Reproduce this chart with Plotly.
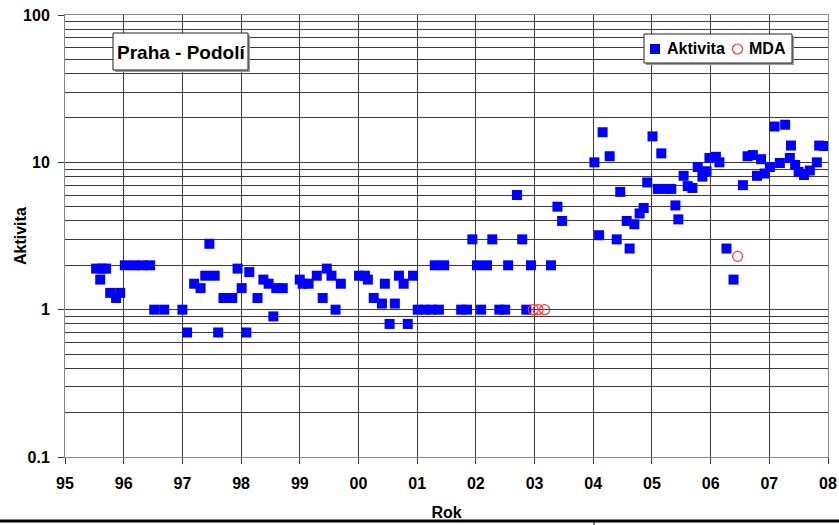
import plotly.graph_objects as go

# Measured activity (decimal year, value)
akt_rok = [
    1995.53, 1995.60, 1995.63, 1995.70, 1995.77, 1995.87, 1995.94,
    1996.02, 1996.18, 1996.32, 1996.45, 1996.52, 1996.69,
    1997.00, 1997.08, 1997.20, 1997.31, 1997.39, 1997.46, 1997.55, 1997.61,
    1997.70, 1997.85, 1997.94, 1998.01, 1998.09, 1998.14, 1998.28, 1998.38,
    1998.47, 1998.55, 1998.60, 1998.71,
    1999.00, 1999.05, 1999.15, 1999.29, 1999.39, 1999.46, 1999.54, 1999.61, 1999.70,
    2000.01, 2000.11, 2000.16, 2000.26, 2000.40, 2000.45, 2000.53, 2000.62,
    2000.69, 2000.77, 2000.84, 2000.93,
    2001.01, 2001.13, 2001.25, 2001.30, 2001.37, 2001.46, 2001.75, 2001.85, 2001.94,
    2002.02, 2002.09, 2002.19, 2002.28, 2002.40, 2002.50, 2002.55, 2002.70,
    2002.79, 2002.86, 2002.94,
    2003.28, 2003.39, 2003.47,
    2004.02, 2004.10, 2004.16, 2004.28, 2004.40, 2004.46, 2004.57, 2004.62,
    2004.70, 2004.79, 2004.86, 2004.92,
    2005.01, 2005.10, 2005.16, 2005.22, 2005.33, 2005.40, 2005.45, 2005.54,
    2005.61, 2005.69, 2005.78, 2005.86, 2005.93, 2005.98,
    2006.09, 2006.15, 2006.27, 2006.39, 2006.55, 2006.63, 2006.72, 2006.79,
    2006.86, 2006.92,
    2007.01, 2007.09, 2007.18, 2007.27, 2007.35, 2007.37, 2007.44, 2007.50,
    2007.59, 2007.69, 2007.81, 2007.85, 2007.93,
]
akt_hodnota = [
    1.9, 1.6, 1.9, 1.9, 1.3, 1.2, 1.3,
    2.0, 2.0, 2.0, 2.0, 1.0, 1.0,
    1.0, 0.7, 1.5, 1.4, 1.7, 2.8, 1.7, 0.7,
    1.2, 1.2, 1.9, 1.4, 0.7, 1.8, 1.2, 1.6,
    1.5, 0.9, 1.4, 1.4,
    1.6, 1.5, 1.5, 1.7, 1.2, 1.9, 1.7, 1.0, 1.5,
    1.7, 1.7, 1.6, 1.2, 1.1, 1.5, 0.8, 1.1,
    1.7, 1.5, 0.8, 1.7,
    1.0, 1.0, 1.0, 2.0, 1.0, 2.0, 1.0, 1.0, 3.0,
    2.0, 1.0, 2.0, 3.0, 1.0, 1.0, 2.0, 6.0,
    3.0, 1.0, 2.0,
    2.0, 5.0, 4.0,
    10.0, 3.2, 16.0, 11.0, 3.0, 6.3, 4.0, 2.6,
    3.8, 4.5, 4.9, 7.3,
    15.0, 6.6, 11.5, 6.6, 6.6, 5.1, 4.1, 8.1,
    6.9, 6.7, 9.3, 8.0, 8.7, 10.7,
    10.9, 10.0, 2.6, 1.6, 7.0, 11.0, 11.2, 8.1,
    10.5, 8.4,
    9.3, 17.5, 9.9, 18.0, 10.7, 13.0, 9.6, 8.6,
    8.2, 8.8, 10.0, 13.0, 12.9,
]

# Minimum detectable activity
mda_rok = [2002.98, 2003.06, 2003.17, 2006.46]
mda_hodnota = [1.0, 1.0, 1.0, 2.3]

rok_ticks = list(range(1995, 2009))
rok_labels = ["95", "96", "97", "98", "99", "00", "01", "02", "03", "04",
              "05", "06", "07", "08"]
dekady = [0.1, 1, 10, 100]
dekady_labels = ["0.1", "1", "10", "100"]
mezi = [m * 10 ** e for e in (-1, 0, 1) for m in range(2, 10)]

FONT = "Liberation Sans, Arial, sans-serif"
W, H = 839, 525
ML, MR, MT, MB = 65, 11, 15, 68
PW, PH = W - ML - MR, H - MT - MB


def px(x):
    """Pixel column -> paper x."""
    return (x - ML) / PW


def py(y):
    """Pixel row -> paper y."""
    return (H - MB - y) / PH


fig = go.Figure()
fig.add_trace(go.Scatter(
    x=akt_rok, y=akt_hodnota, mode="markers", name="Aktivita",
    showlegend=False,
    marker=dict(symbol="square", size=10, color="#0000ff",
                line=dict(width=0)),
))
fig.add_trace(go.Scatter(
    x=mda_rok, y=mda_hodnota, mode="markers", name="MDA",
    showlegend=False,
    marker=dict(symbol="circle-open", size=10, color="#ff3333",
                line=dict(width=1.2)),
))

grid = "#3a3a3a"
fig.update_layout(
    width=W, height=H,
    margin=dict(l=ML, r=MR, t=MT, b=MB, autoexpand=False),
    paper_bgcolor="white", plot_bgcolor="white",
    font=dict(family=FONT, size=16, color="black", weight="bold"),
    xaxis=dict(
        range=[1995, 2008], tickmode="array", tickvals=rok_ticks,
        ticktext=rok_labels, showgrid=True, gridcolor=grid, gridwidth=1,
        ticks="outside", ticklen=6, tickcolor=grid, ticklabelstandoff=6,
        showline=True, linecolor="#888", mirror=True, zeroline=False,
        automargin=False,
        title=dict(text="Rok", font=dict(size=16, weight="bold"), standoff=15),
    ),
    yaxis=dict(
        type="log", range=[-1, 2], tickmode="array", tickvals=dekady,
        ticktext=dekady_labels, showgrid=True, gridcolor=grid, gridwidth=1,
        ticks="outside", ticklen=6, tickcolor=grid, ticklabelstandoff=5,
        minor=dict(tickmode="array", tickvals=mezi, showgrid=True,
                   gridcolor=grid, gridwidth=1, ticks=""),
        showline=True, linecolor="#888", mirror=True, zeroline=False,
        automargin=False,
    ),
)

# Vertical axis caption
fig.add_annotation(xref="paper", yref="paper", x=px(20), y=py(236),
                   xanchor="center", yanchor="middle", textangle=-90,
                   text="Aktivita", showarrow=False,
                   font=dict(family=FONT, size=16, color="black",
                             weight="bold"))


def boxed(x0, y0, x1, y1):
    # white panel with a soft offset shadow
    fig.add_shape(type="rect", xref="paper", yref="paper",
                  x0=px(x0 + 2), x1=px(x1 + 2), y0=py(y1 + 2), y1=py(y0 + 2),
                  fillcolor="#9a9a9a", line=dict(width=0), layer="above")
    fig.add_shape(type="rect", xref="paper", yref="paper",
                  x0=px(x0), x1=px(x1), y0=py(y1), y1=py(y0),
                  fillcolor="white", line=dict(color="#222", width=1),
                  layer="above")


# Station caption
boxed(113, 33, 248, 70)
fig.add_annotation(xref="paper", yref="paper", x=px(180.5), y=py(52),
                   xanchor="center", yanchor="middle",
                   text="Praha - Podolí", showarrow=False,
                   font=dict(family=FONT, size=19, color="black",
                             weight="bold"))

# Legend
boxed(644, 34, 792, 63)
fig.add_shape(type="rect", xref="paper", yref="paper",
              x0=px(650), x1=px(660), y0=py(54), y1=py(44),
              fillcolor="#0000ff", line=dict(width=0), layer="above")
fig.add_shape(type="circle", xref="paper", yref="paper",
              x0=px(732.5), x1=px(742.5), y0=py(54), y1=py(44),
              fillcolor="white", line=dict(color="#ff3333", width=1.2),
              layer="above")
fig.add_annotation(xref="paper", yref="paper", x=px(665), y=py(49),
                   xanchor="left", yanchor="middle", text="Aktivita",
                   showarrow=False,
                   font=dict(family=FONT, size=16, color="black",
                             weight="bold"))
fig.add_annotation(xref="paper", yref="paper", x=px(747), y=py(49),
                   xanchor="left", yanchor="middle", text="MDA",
                   showarrow=False,
                   font=dict(family=FONT, size=16, color="black",
                             weight="bold"))

# Page rule under the chart
fig.add_shape(type="line", xref="paper", yref="paper",
              x0=px(0), x1=px(W), y0=py(521), y1=py(521),
              line=dict(color="black", width=3))
fig.add_shape(type="line", xref="paper", yref="paper",
              x0=px(594), x1=px(594), y0=py(521), y1=py(527),
              line=dict(color="black", width=1))

fig.write_html("out.html")
